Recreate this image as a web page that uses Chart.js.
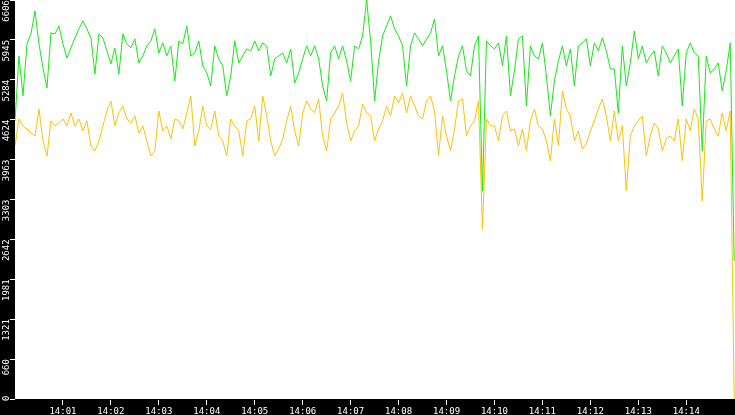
<!DOCTYPE html>
<html>
<head>
<meta charset="utf-8">
<script src="https://cdn.jsdelivr.net/npm/chart.js@4.4.1/dist/chart.umd.min.js"></script>
<style>
  html, body { margin: 0; padding: 0; background: #000; }
  #wrap { width: 735px; height: 415px; }
</style>
</head>
<body>
<div id="wrap"><canvas id="chart" width="735" height="415"></canvas></div>
<script>
// one sample every 5 seconds from 14:00:00 to 14:15:00
const startHour = 14;
const sampleStep = 5;

const greenValues = [
  4604, 5680, 5018, 5879, 6045, 6425, 5879, 5481, 5150, 6061,
  6045, 6177, 5879, 5647, 5813, 5978, 6127, 6260, 6127, 5978,
  5382, 6045, 5978, 5763, 5548, 5813, 5382, 6045, 5879, 5813,
  5962, 5564, 5680, 5846, 5929, 6127, 5730, 5896, 5680, 5846,
  5266, 5929, 5879, 6177, 5680, 5730, 5929, 5515, 5399, 5183,
  5846, 5631, 5515, 5018, 5349, 5929, 5564, 5680, 5796, 5763,
  5929, 5763, 5896, 5846, 5349, 5631, 5680, 5730, 5564, 5796,
  5233, 5399, 5631, 5846, 5680, 5846, 5631, 5183, 4935, 5730,
  5846, 5631, 5846, 5597, 5266, 5846, 5796, 6011, 6606, 5929,
  4935, 5597, 6011, 6177, 6343, 6127, 6011, 5846, 5183, 5846,
  6061, 5962, 5846, 5962, 6061, 6293, 5680, 5846, 5432, 4935,
  5349, 5680, 5846, 5432, 5349, 5846, 6011, 3445, 5929, 5846,
  5796, 5896, 5515, 6011, 5018, 5432, 5962, 6011, 4852, 5846,
  5680, 5631, 5896, 5349, 4687, 5266, 5597, 5846, 5515, 5796,
  5183, 5846, 5896, 5962, 5515, 5896, 5763, 5978, 5763, 5465,
  5465, 4736, 5846, 5183, 5564, 6094, 5631, 5846, 5564, 5680,
  5763, 5349, 5846, 5730, 5564, 5680, 5796, 4852, 5730, 5896,
  5730, 5680, 4107, 5680, 5399, 5465, 5564, 5101, 5432, 5896,
  2285
];

const yellowValues = [
  4190, 4637, 4521, 4471, 4405, 4355, 4803, 4273, 4024, 4604,
  4521, 4571, 4637, 4521, 4736, 4521, 4637, 4438, 4604, 4190,
  4107, 4273, 4521, 4769, 4935, 4521, 4736, 4852, 4637, 4571,
  4687, 4405, 4521, 4273, 4024, 4107, 4769, 4438, 4521, 4306,
  4637, 4604, 4471, 4736, 5018, 4190, 4438, 4852, 4521, 4471,
  4769, 4355, 4273, 4024, 4637, 4521, 4438, 4024, 4604, 4637,
  4852, 4273, 5018, 4687, 4273, 4024, 4140, 4306, 4604, 4852,
  4438, 4190, 4736, 4935, 4803, 4736, 4968, 4355, 4107, 4637,
  4736, 4852, 5067, 4571, 4273, 4438, 4521, 4885, 4736, 4687,
  4273, 4471, 4604, 4852, 4687, 5018, 4902, 5067, 4736, 5018,
  4852, 4687, 4637, 4935, 5018, 4769, 4024, 4687, 4355, 4107,
  4471, 4935, 4968, 4355, 4521, 4604, 4935, 2815, 4637, 4521,
  4521, 4273, 4687, 4769, 4438, 4471, 4190, 4471, 4107, 4604,
  4803, 4521, 4471, 4273, 3941, 4637, 4190, 5101, 4803, 4687,
  4273, 4438, 4140, 4223, 4438, 4604, 4803, 4968, 4687, 4273,
  4769, 4273, 4521, 3445, 4355, 4521, 4604, 4687, 4024, 4355,
  4571, 4471, 4107, 4306, 4355, 4273, 4637, 3941, 4637, 4438,
  4803, 4637, 3279, 4604, 4637, 4471, 4355, 4736, 4438, 4769,
  0
];

// axis ticks: seconds after 14:00 and the y tick count
const xTickSeconds = [60, 120, 180, 240, 300, 360, 420, 480, 540, 600, 660, 720, 780, 840];
const yMax = 6606;
const yTickCount = 11;
const xMaxSeconds = 901;

const sampleTimes = greenValues.map((_, i) => i * sampleStep);

function toPoints(values) {
  return values.map((v, i) => ({ x: sampleTimes[i], y: v }));
}

function timeLabel(sec) {
  const m = Math.round(sec / 60);
  return startHour + ':' + String(m).padStart(2, '0');
}

// black frame around a white plot area
const framePlugin = {
  id: 'frame',
  beforeDraw(chart) {
    const { ctx, chartArea: a } = chart;
    ctx.save();
    ctx.fillStyle = '#000';
    ctx.fillRect(0, 0, chart.width, chart.height);
    ctx.fillStyle = '#fff';
    ctx.fillRect(a.left, a.top, a.right - a.left, a.bottom - a.top);
    ctx.restore();
  }
};

// white tick marks and labels in the black frame
const axisPlugin = {
  id: 'axisLabels',
  afterDraw(chart) {
    const { ctx, chartArea: a } = chart;
    const xs = chart.scales.x;
    const ys = chart.scales.y;
    ctx.save();
    ctx.font = '9px "DejaVu Sans Mono"';
    ctx.fillStyle = '#fff';

    // x axis
    ctx.textAlign = 'center';
    ctx.textBaseline = 'alphabetic';
    xTickSeconds.forEach(s => {
      const px = xs.getPixelForValue(s);
      ctx.fillRect(Math.floor(px), a.bottom + 1, 1, 5);
      ctx.fillText(timeLabel(s), px, a.bottom + 15);
    });

    // y axis, labels rotated and ending at the tick
    ctx.textAlign = 'right';
    ctx.textBaseline = 'middle';
    ys.ticks.forEach(t => {
      const label = String(Math.floor(t.value + 1e-6));
      const w = ctx.measureText(label).width;
      const tickY = ys.getPixelForValue(t.value);
      ctx.fillRect(a.left - 5, Math.floor(tickY), 5, 1);
      const py = Math.max(0, Math.min(tickY, a.bottom + 2 - w));
      ctx.save();
      ctx.translate(6.5, py);
      ctx.rotate(-Math.PI / 2);
      ctx.fillText(label, 0, 0);
      ctx.restore();
    });
    ctx.restore();
  }
};

new Chart(document.getElementById('chart'), {
  type: 'line',
  data: {
    datasets: [
      {
        data: toPoints(greenValues),
        borderColor: 'rgb(16, 238, 16)',
        borderWidth: 1,
        pointRadius: 0,
        tension: 0,
        fill: false
      },
      {
        data: toPoints(yellowValues),
        borderColor: 'rgb(255, 194, 0)',
        borderWidth: 1,
        pointRadius: 0,
        tension: 0,
        fill: false
      }
    ]
  },
  options: {
    responsive: false,
    animation: false,
    devicePixelRatio: 1,
    layout: { padding: 0 },
    plugins: {
      legend: { display: false },
      tooltip: { enabled: false }
    },
    scales: {
      x: {
        type: 'linear',
        min: 0,
        max: xMaxSeconds,
        border: { display: false },
        grid: { display: false },
        ticks: { display: false },
        afterFit: scale => { scale.height = 16; }
      },
      y: {
        min: 0,
        max: yMax,
        border: { display: false },
        grid: { display: false },
        ticks: { count: yTickCount, display: false },
        afterFit: scale => { scale.width = 15; }
      }
    }
  },
  plugins: [framePlugin, axisPlugin]
});
</script>
</body>
</html>
